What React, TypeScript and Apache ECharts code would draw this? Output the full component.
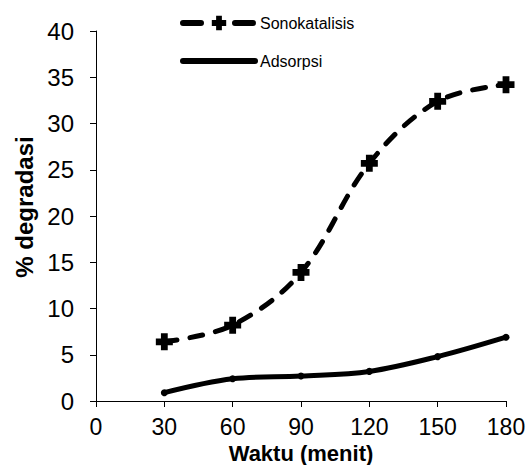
import React, { useEffect, useRef } from "react";
import * as echarts from "echarts";

const waktu = [30, 60, 90, 120, 150, 180];
const sonokatalisis = [6.4, 8.2, 13.9, 25.7, 32.4, 34.2];
const adsorpsi = [0.9, 2.4, 2.7, 3.2, 4.8, 6.9];

const plusPath = "path://M3,0 L7,0 L7,3 L10,3 L10,7 L7,7 L7,10 L3,10 L3,7 L0,7 L0,3 L3,3 Z";
const FONT = "Liberation Sans, Arial, sans-serif";

export default function App() {
  const ref = useRef<HTMLDivElement>(null);
  useEffect(() => {
    if (!ref.current) return;
    const chart = echarts.init(ref.current, undefined, { renderer: "svg" });
    chart.setOption({
      animation: false,
      backgroundColor: "#fff",
      grid: { left: 96, right: 23, top: 31, bottom: 64, outerBoundsMode: "none", containLabel: false },
      legend: [
        {
          left: 180,
          top: 15,
          padding: 0,
          itemWidth: 72,
          itemHeight: 18,
          textStyle: { fontFamily: FONT, fontSize: 16, color: "#000" },
          data: [
            {
              name: "Sonokatalisis",
              lineStyle: { width: 6, type: [18, 34], cap: "round" },
            },
          ],
        },
        {
          left: 180,
          top: 53,
          padding: 0,
          itemWidth: 72,
          itemHeight: 7,
          textStyle: { fontFamily: FONT, fontSize: 16, color: "#000" },
          data: [{ name: "Adsorpsi", lineStyle: { width: 6 } }],
        },
      ],
      xAxis: {
        type: "value",
        min: 0,
        max: 180,
        interval: 30,
        name: "Waktu (menit)",
        nameLocation: "middle",
        nameGap: 42,
        nameMoveOverlap: false,
        nameTextStyle: { fontFamily: FONT, fontSize: 22, fontWeight: "bold", color: "#000", lineHeight: 20 },
        axisLine: { lineStyle: { color: "#000", width: 1 } },
        axisTick: { show: true, inside: false, length: 6, lineStyle: { color: "#000" } },
        axisLabel: { fontFamily: FONT, fontSize: 23, color: "#000", margin: 17, lineHeight: 18 },
        splitLine: { show: false },
      },
      yAxis: {
        type: "value",
        min: 0,
        max: 40,
        interval: 5,
        name: "% degradasi",
        nameLocation: "middle",
        nameGap: 60,
        nameRotate: 90,
        nameMoveOverlap: false,
        nameTextStyle: { fontFamily: FONT, fontSize: 24, fontWeight: "bold", color: "#000", padding: [0, 0, 0, 18] },
        axisLine: { show: true, lineStyle: { color: "#000", width: 1 } },
        axisTick: { show: true, inside: false, length: 6, lineStyle: { color: "#000" } },
        axisLabel: { fontFamily: FONT, fontSize: 24, color: "#000", margin: 22 },
        splitLine: { show: false },
      },
      series: [
        {
          name: "Sonokatalisis",
          type: "line",
          smooth: 0.35,
          data: waktu.map((x, i) => [x, sonokatalisis[i]]),
          symbol: plusPath,
          symbolSize: 17,
          itemStyle: { color: "#000" },
          lineStyle: { color: "#000", width: 5, type: [13, 13], cap: "round" },
        },
        {
          name: "Adsorpsi",
          type: "line",
          smooth: 0.35,
          data: waktu.map((x, i) => [x, adsorpsi[i]]),
          symbol: "circle",
          symbolSize: 7,
          itemStyle: { color: "#000" },
          lineStyle: { color: "#000", width: 5, cap: "round" },
        },
      ],
    });
    return () => chart.dispose();
  }, []);
  return <div ref={ref} style={{ width: 529, height: 465, position: "absolute", left: 0, top: 0 }} />;
}
